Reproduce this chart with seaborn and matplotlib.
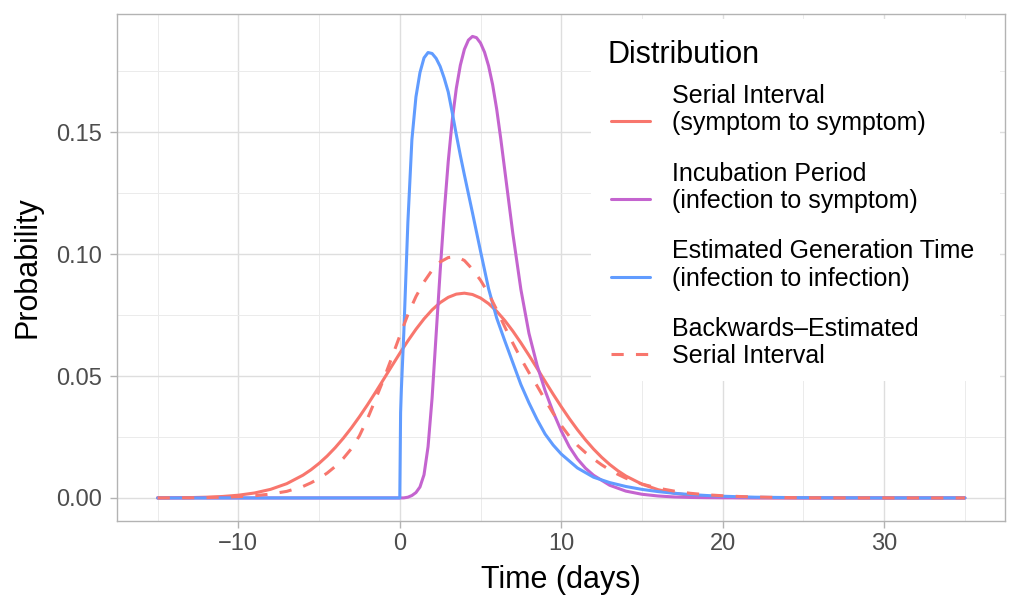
import numpy as np
import pandas as pd
import matplotlib
matplotlib.use('Agg')
import matplotlib.pyplot as plt
from matplotlib.lines import Line2D
from matplotlib.patches import Rectangle
from matplotlib.legend_handler import HandlerLine2D
import seaborn as sns

# Values
days = [-15, -14, -13, -12, -11, -10, -9, -8, -7, -6,
        -5.5, -5, -4.5, -4, -3.5, -3, -2.5, -2, -1.5, -1, -0.5, 0, 0.5, 1, 1.5, 2, 2.5, 3, 3.5, 4,
        4.5, 5, 5.5, 6, 6.5, 7, 7.5, 8, 8.5, 9, 9.5, 10, 10.5, 11, 11.5, 12, 12.5, 13, 13.5, 14,
        15, 16, 17, 18, 19, 20, 21, 22, 23, 24, 25, 26, 27, 28, 29, 30, 31, 32, 33, 34, 35]

serial_interval = [0.00003, 0.00007, 0.00014, 0.0003, 0.00059, 0.00112, 0.00203, 0.00353, 0.00586, 0.00933,
                   0.01156, 0.01418, 0.01719, 0.02063, 0.02448, 0.02871, 0.03331, 0.03822, 0.04338, 0.04869,
                   0.05405, 0.05933, 0.06442, 0.06917, 0.07345, 0.07714, 0.08012, 0.08229, 0.0836, 0.08399,
                   0.08345, 0.0820, 0.07969, 0.07659, 0.0728, 0.06844, 0.06362, 0.0585, 0.05319, 0.04783,
                   0.04254, 0.03742, 0.03255, 0.02801, 0.02383, 0.02005, 0.01669, 0.01373, 0.01118, 0.009,
                   0.00564, 0.00338, 0.00194, 0.00106, 0.00056, 0.00028, 0.00014, 0.00006, 0.00003, 0.00001,
                   0, 0, 0, 0, 0, 0, 0, 0, 0, 0, 0]

backwards_si = [0.00002, 0.00004, 0.00008, 0.00015, 0.0003, 0.0005, 0.0009, 0.0016, 0.0027, 0.0047,
                0.0062, 0.0080, 0.0102, 0.0129, 0.0162, 0.0202, 0.0255, 0.0325, 0.0405, 0.0487,
                0.0575, 0.0665, 0.0752, 0.0826, 0.0886, 0.0934, 0.0968, 0.0986, 0.0990, 0.0974,
                0.0938, 0.0893, 0.0838, 0.0772, 0.0702, 0.0635, 0.0572, 0.0514, 0.0460, 0.0402,
                0.0347, 0.0297, 0.0253, 0.0216, 0.0186, 0.0160, 0.0136, 0.0115, 0.0097, 0.0081,
                0.0057, 0.0040, 0.0028, 0.0019, 0.0013, 0.0009, 0.0006, 0.0004, 0.00025, 0.00016,
                0.0001, 0.00006, 0.00004, 0.00002, 0.00001, 0, 0, 0, 0, 0, 0]

inc_days = [-15, -10, -5, 0, 0.25, 0.5, 0.75, 1, 1.25, 1.5, 1.75, 2, 2.25, 2.5, 2.75, 3, 3.25, 3.5,
            3.75, 4, 4.25, 4.5, 4.75, 5, 5.25, 5.5, 5.75, 6, 6.25, 6.5, 6.75, 7, 7.5, 8, 8.5, 9,
            9.5, 10, 10.5, 11, 11.5, 12, 13, 14, 15, 16, 17, 18, 19, 20, 25, 30, 35]
incubation = [0, 0, 0, 0, 0.00002, 0.0003, 0.001, 0.0022, 0.0045, 0.0095, 0.021, 0.041, 0.067, 0.093,
              0.117, 0.138, 0.155, 0.168, 0.1775, 0.1840, 0.1878, 0.1893, 0.1888, 0.1866, 0.1828,
              0.1772, 0.1695, 0.1595, 0.1475, 0.1345, 0.1215, 0.1085, 0.0855, 0.0675, 0.0545, 0.0440,
              0.0352, 0.0275, 0.0210, 0.0160, 0.0122, 0.0093, 0.0052, 0.0028, 0.0015, 0.0008, 0.0004,
              0.0002, 0.0001, 0.00005, 0, 0, 0]

gen_days = [-15, -10, -5, 0, 0.05, 0.1, 0.25, 0.5, 0.75, 1, 1.25, 1.5, 1.75, 2, 2.25, 2.5, 2.75, 3,
            3.25, 3.5, 3.75, 4, 4.5, 5, 5.5, 6, 6.5, 7, 7.5, 8, 8.5, 9, 9.5, 10, 11, 12, 13, 14, 15,
            16, 17, 18, 19, 20, 22, 25, 30, 35]
generation = [0, 0, 0, 0, 0.035, 0.045, 0.068, 0.113, 0.147, 0.1645, 0.1745, 0.1805, 0.1827, 0.1823,
              0.1803, 0.1770, 0.1722, 0.1665, 0.1580, 0.1490, 0.1405, 0.1325, 0.1170, 0.1012, 0.0858,
              0.0738, 0.0645, 0.0555, 0.0465, 0.0390, 0.0322, 0.0262, 0.0217, 0.0180, 0.0123, 0.0085,
              0.0063, 0.0047, 0.0035, 0.0026, 0.0019, 0.0014, 0.0010, 0.0007, 0.0003, 0.0001, 0, 0]

labels = ['Serial Interval\n(symptom to symptom)',
          'Incubation Period\n(infection to symptom)',
          'Estimated Generation Time\n(infection to infection)',
          'Backwards\u2013Estimated\nSerial Interval']
colors = ['#F8766D', '#C464CF', '#619CFF', '#F8766D']


# legend keys sit level with the second line of each label, as in ggplot
class KeyOnSecondLine(HandlerLine2D):
    def create_artists(self, legend, orig_handle, xdescent, ydescent, width, height, fontsize, trans):
        arts = super().create_artists(legend, orig_handle, xdescent, ydescent, width, height,
                                      fontsize, trans)
        for a in arts:
            a.set_ydata(np.asarray(a.get_ydata(), dtype=float) - 7.9)
        return arts


sns.set_theme(style='whitegrid')
plt.rcParams['font.family'] = ['Liberation Sans', 'DejaVu Sans']

fig = plt.figure(figsize=(10.24, 6.14), dpi=100)
ax = fig.add_axes([0.1145, 0.1515, 0.8672, 0.8257])

series = [(days, serial_interval, '-'), (inc_days, incubation, '-'),
          (gen_days, generation, '-'), (days, backwards_si, (0, (4, 4)))]
for (xs, ys, ls), lab, col in zip(series, labels, colors):
    d = pd.DataFrame({'day': xs, 'prob': ys})
    sns.lineplot(data=d, x='day', y='prob', ax=ax, color=col, linewidth=2.2,
                 linestyle=ls, label=lab, sort=False)

ax.set_xlim(-17.5, 37.5)
ax.set_ylim(-0.00945, 0.1985)
ax.set_xticks([-10, 0, 10, 20, 30])
ax.set_xticks([-15, -5, 5, 15, 25, 35], minor=True)
ax.set_yticks([0, 0.05, 0.10, 0.15])
ax.set_yticklabels(['0.00', '0.05', '0.10', '0.15'])
ax.set_yticks([0.025, 0.075, 0.125, 0.175], minor=True)

ax.set_facecolor('white')
ax.grid(which='major', color='#DEDEDE', linewidth=1.0)
ax.grid(which='minor', color='#EBEBEB', linewidth=0.7)
for s in ax.spines.values():
    s.set_color('#B3B3B3')
    s.set_linewidth(1.0)
ax.tick_params(which='major', length=5, width=1, color='#B3B3B3', labelsize=17,
               labelcolor='#4D4D4D', pad=4, bottom=True, left=True)
ax.tick_params(axis='y', which='major', pad=6)
ax.tick_params(which='minor', length=0)

ax.set_xlabel('Time (days)', fontsize=22, color='black', labelpad=7)
ax.set_ylabel('Probability', fontsize=22, color='black', labelpad=10)

# white legend background over the gridlines
ax.add_patch(Rectangle((0.5338, 0.2761), 0.4606, 0.7139, transform=ax.transAxes,
                       facecolor='white', edgecolor='none', zorder=1.5))
fig.text(608 / 1024, 1 - 62.7 / 614, 'Distribution', fontsize=22, color='black',
         ha='left', va='baseline')

handles, _ = ax.get_legend_handles_labels()
leg = ax.legend(handles, labels, loc='upper left', bbox_to_anchor=(0.5563, 0.862),
                fontsize=18, frameon=False, handlelength=1.55, handletextpad=0.9,
                labelspacing=1.05, borderpad=0, borderaxespad=0,
                handler_map={Line2D: KeyOnSecondLine()})
for t in leg.get_texts():
    t.set_linespacing(1.18)
    t.set_color('black')

fig.savefig('out.png', dpi=100)
